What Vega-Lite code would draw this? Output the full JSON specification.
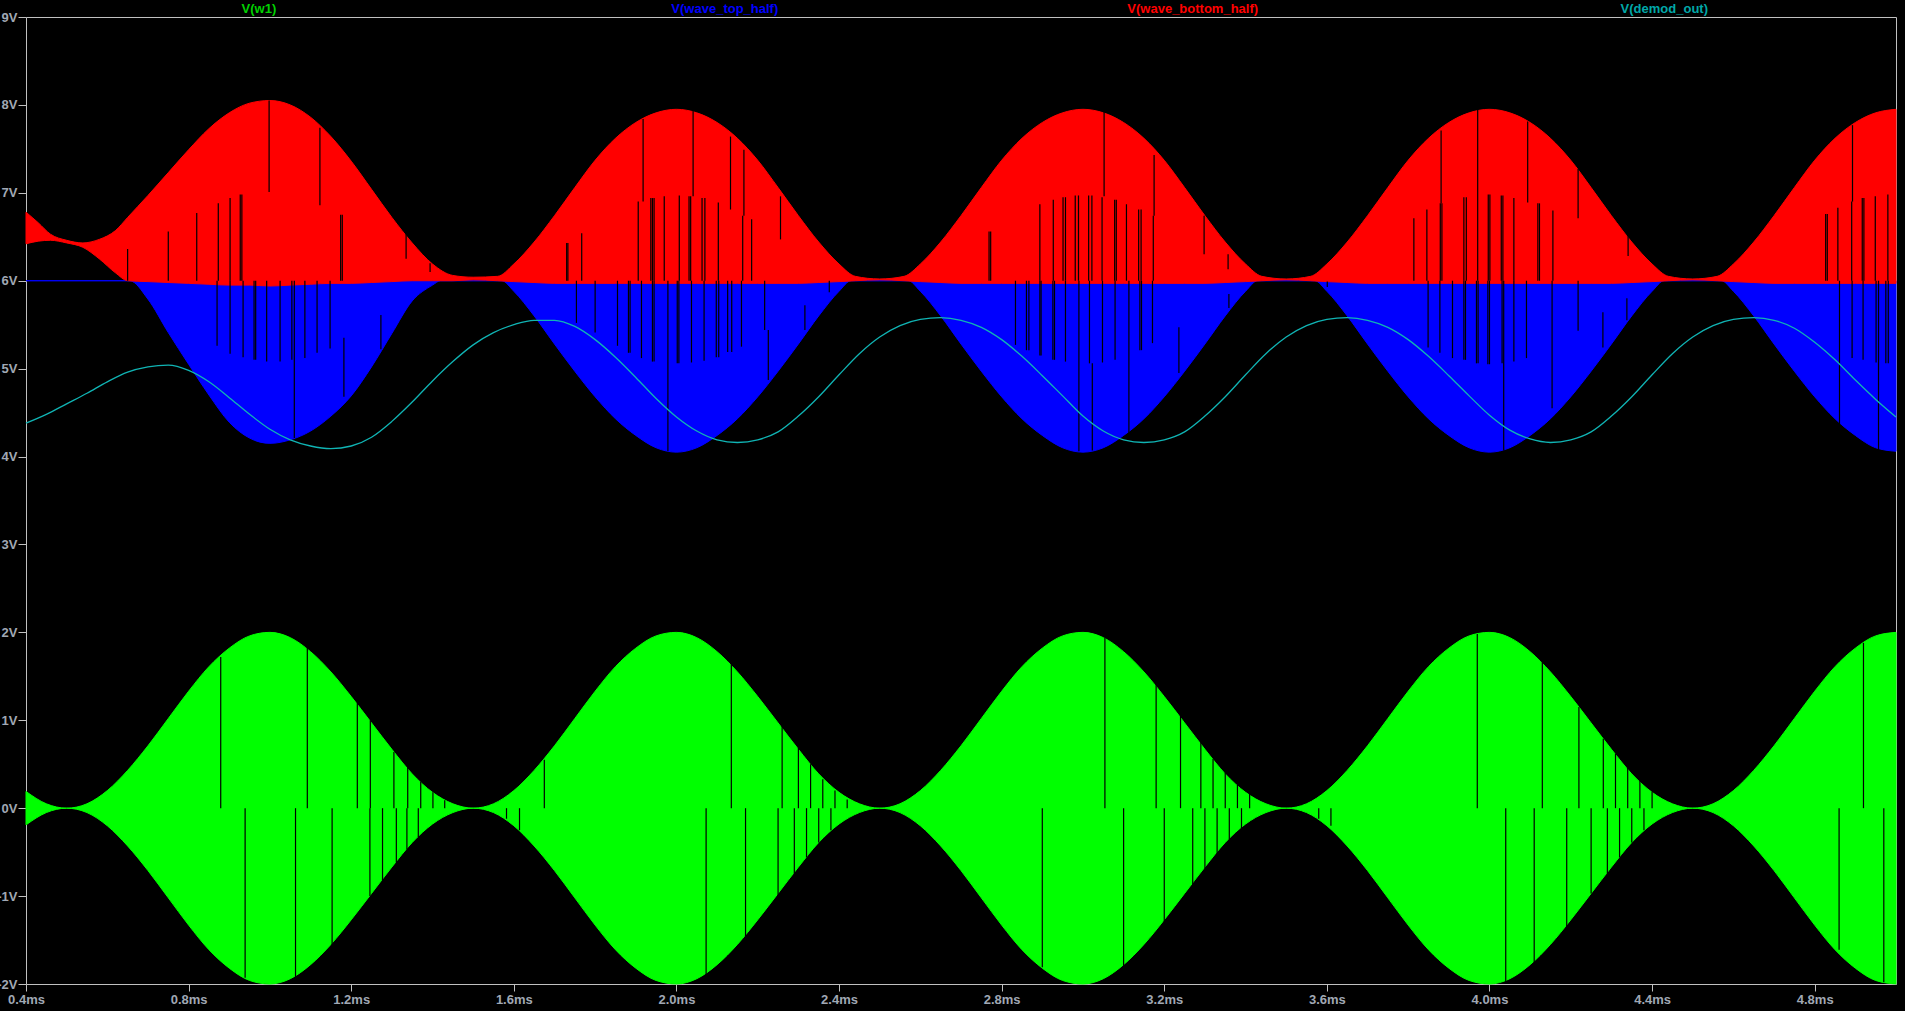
{
 "$schema": "https://vega.github.io/schema/vega-lite/v6.json",
 "width": 1870, "height": 967,
 "autosize": {"type": "none"},
 "padding": {"left": 26, "top": 17, "right": 9, "bottom": 27},
 "background": "#000000",
 "config": {
  "view": {"stroke": "#c0c0c0", "strokeWidth": 1, "fill": "#000000"},
  "axis": {"domain": false, "grid": false, "tickColor": "#c0c0c0", "labelColor": "#a0a8b4", "labelFont": "Liberation Sans, Arial, sans-serif", "labelFontSize": 13, "labelFontWeight": "bold", "title": null, "labelFlush": false, "labelOverlap": false, "labelBound": false}
 },
 "datasets": {
  "green": [
   {"t":0.40,"hi":0.19,"lo":-0.19},{"t":0.45,"hi":0.05,"lo":-0.05},{"t":0.50,"hi":0.00,"lo":0.00},{"t":0.55,"hi":0.05,"lo":-0.05},{"t":0.60,"hi":0.20,"lo":-0.20},{"t":0.65,"hi":0.43,"lo":-0.43},{"t":0.70,"hi":0.71,"lo":-0.71},{"t":0.75,"hi":1.02,"lo":-1.02},{"t":0.80,"hi":1.33,"lo":-1.33},{"t":0.85,"hi":1.61,"lo":-1.61},{"t":0.90,"hi":1.82,"lo":-1.82},{"t":0.95,"hi":1.96,"lo":-1.96},
   {"t":1.00,"hi":2.00,"lo":-2.00},{"t":1.05,"hi":1.94,"lo":-1.94},{"t":1.10,"hi":1.78,"lo":-1.78},{"t":1.15,"hi":1.55,"lo":-1.55},{"t":1.20,"hi":1.27,"lo":-1.27},{"t":1.25,"hi":0.97,"lo":-0.97},{"t":1.30,"hi":0.67,"lo":-0.67},{"t":1.35,"hi":0.39,"lo":-0.39},{"t":1.40,"hi":0.18,"lo":-0.18},{"t":1.45,"hi":0.05,"lo":-0.05},
   {"t":1.50,"hi":0.00,"lo":0.00},{"t":1.55,"hi":0.05,"lo":-0.05},{"t":1.60,"hi":0.20,"lo":-0.20},{"t":1.65,"hi":0.43,"lo":-0.43},{"t":1.70,"hi":0.71,"lo":-0.71},{"t":1.75,"hi":1.02,"lo":-1.02},{"t":1.80,"hi":1.33,"lo":-1.33},{"t":1.85,"hi":1.61,"lo":-1.61},{"t":1.90,"hi":1.82,"lo":-1.82},{"t":1.95,"hi":1.96,"lo":-1.96},
   {"t":2.00,"hi":2.00,"lo":-2.00},{"t":2.05,"hi":1.94,"lo":-1.94},{"t":2.10,"hi":1.78,"lo":-1.78},{"t":2.15,"hi":1.55,"lo":-1.55},{"t":2.20,"hi":1.27,"lo":-1.27},{"t":2.25,"hi":0.97,"lo":-0.97},{"t":2.30,"hi":0.67,"lo":-0.67},{"t":2.35,"hi":0.39,"lo":-0.39},{"t":2.40,"hi":0.18,"lo":-0.18},{"t":2.45,"hi":0.05,"lo":-0.05},
   {"t":2.50,"hi":0.00,"lo":0.00},{"t":2.55,"hi":0.05,"lo":-0.05},{"t":2.60,"hi":0.20,"lo":-0.20},{"t":2.65,"hi":0.43,"lo":-0.43},{"t":2.70,"hi":0.71,"lo":-0.71},{"t":2.75,"hi":1.02,"lo":-1.02},{"t":2.80,"hi":1.33,"lo":-1.33},{"t":2.85,"hi":1.61,"lo":-1.61},{"t":2.90,"hi":1.82,"lo":-1.82},{"t":2.95,"hi":1.96,"lo":-1.96},
   {"t":3.00,"hi":2.00,"lo":-2.00},{"t":3.05,"hi":1.94,"lo":-1.94},{"t":3.10,"hi":1.78,"lo":-1.78},{"t":3.15,"hi":1.55,"lo":-1.55},{"t":3.20,"hi":1.27,"lo":-1.27},{"t":3.25,"hi":0.97,"lo":-0.97},{"t":3.30,"hi":0.67,"lo":-0.67},{"t":3.35,"hi":0.39,"lo":-0.39},{"t":3.40,"hi":0.18,"lo":-0.18},{"t":3.45,"hi":0.05,"lo":-0.05},
   {"t":3.50,"hi":0.00,"lo":0.00},{"t":3.55,"hi":0.05,"lo":-0.05},{"t":3.60,"hi":0.20,"lo":-0.20},{"t":3.65,"hi":0.43,"lo":-0.43},{"t":3.70,"hi":0.71,"lo":-0.71},{"t":3.75,"hi":1.02,"lo":-1.02},{"t":3.80,"hi":1.33,"lo":-1.33},{"t":3.85,"hi":1.61,"lo":-1.61},{"t":3.90,"hi":1.82,"lo":-1.82},{"t":3.95,"hi":1.96,"lo":-1.96},
   {"t":4.00,"hi":2.00,"lo":-2.00},{"t":4.05,"hi":1.94,"lo":-1.94},{"t":4.10,"hi":1.78,"lo":-1.78},{"t":4.15,"hi":1.55,"lo":-1.55},{"t":4.20,"hi":1.27,"lo":-1.27},{"t":4.25,"hi":0.97,"lo":-0.97},{"t":4.30,"hi":0.67,"lo":-0.67},{"t":4.35,"hi":0.39,"lo":-0.39},{"t":4.40,"hi":0.18,"lo":-0.18},{"t":4.45,"hi":0.05,"lo":-0.05},
   {"t":4.50,"hi":0.00,"lo":0.00},{"t":4.55,"hi":0.05,"lo":-0.05},{"t":4.60,"hi":0.20,"lo":-0.20},{"t":4.65,"hi":0.43,"lo":-0.43},{"t":4.70,"hi":0.71,"lo":-0.71},{"t":4.75,"hi":1.02,"lo":-1.02},{"t":4.80,"hi":1.33,"lo":-1.33},{"t":4.85,"hi":1.61,"lo":-1.61},{"t":4.90,"hi":1.82,"lo":-1.82},{"t":4.95,"hi":1.96,"lo":-1.96},{"t":5.00,"hi":2.00,"lo":-2.00}
  ],
  "blue": [
   {"t":0.40,"hi":6.0,"lo":6.0},{"t":0.655,"hi":6.0,"lo":6.0},{"t":0.70,"hi":6.0,"lo":5.79},{"t":0.75,"hi":6.0,"lo":5.41},{"t":0.80,"hi":6.0,"lo":5.05},{"t":0.85,"hi":6.0,"lo":4.70},{"t":0.90,"hi":6.0,"lo":4.39},{"t":0.95,"hi":6.0,"lo":4.21},{"t":1.00,"hi":6.0,"lo":4.15},{"t":1.05,"hi":6.0,"lo":4.19},{"t":1.10,"hi":6.0,"lo":4.29},{"t":1.15,"hi":6.0,"lo":4.46},{"t":1.20,"hi":6.0,"lo":4.69},{"t":1.25,"hi":6.0,"lo":5.02},{"t":1.30,"hi":6.0,"lo":5.40},{"t":1.35,"hi":6.0,"lo":5.77},{"t":1.40,"hi":6.0,"lo":5.95},{"t":1.42,"hi":6.0,"lo":6.0},
   {"t":1.57,"hi":6.0,"lo":6.0},{"t":1.60,"hi":6.0,"lo":5.88},{"t":1.65,"hi":6.0,"lo":5.60},{"t":1.70,"hi":6.0,"lo":5.28},{"t":1.75,"hi":6.0,"lo":4.97},{"t":1.80,"hi":6.0,"lo":4.68},{"t":1.85,"hi":6.0,"lo":4.43},{"t":1.90,"hi":6.0,"lo":4.24},{"t":1.95,"hi":6.0,"lo":4.10},{"t":2.00,"hi":6.0,"lo":4.05},{"t":2.05,"hi":6.0,"lo":4.10},{"t":2.10,"hi":6.0,"lo":4.24},{"t":2.15,"hi":6.0,"lo":4.43},{"t":2.20,"hi":6.0,"lo":4.68},{"t":2.25,"hi":6.0,"lo":4.97},{"t":2.30,"hi":6.0,"lo":5.28},{"t":2.35,"hi":6.0,"lo":5.60},{"t":2.40,"hi":6.0,"lo":5.88},{"t":2.43,"hi":6.0,"lo":6.0},
   {"t":2.57,"hi":6.0,"lo":6.0},{"t":2.60,"hi":6.0,"lo":5.88},{"t":2.65,"hi":6.0,"lo":5.60},{"t":2.70,"hi":6.0,"lo":5.28},{"t":2.75,"hi":6.0,"lo":4.97},{"t":2.80,"hi":6.0,"lo":4.68},{"t":2.85,"hi":6.0,"lo":4.43},{"t":2.90,"hi":6.0,"lo":4.24},{"t":2.95,"hi":6.0,"lo":4.10},{"t":3.00,"hi":6.0,"lo":4.05},{"t":3.05,"hi":6.0,"lo":4.10},{"t":3.10,"hi":6.0,"lo":4.24},{"t":3.15,"hi":6.0,"lo":4.43},{"t":3.20,"hi":6.0,"lo":4.68},{"t":3.25,"hi":6.0,"lo":4.97},{"t":3.30,"hi":6.0,"lo":5.28},{"t":3.35,"hi":6.0,"lo":5.60},{"t":3.40,"hi":6.0,"lo":5.88},{"t":3.43,"hi":6.0,"lo":6.0},
   {"t":3.57,"hi":6.0,"lo":6.0},{"t":3.60,"hi":6.0,"lo":5.88},{"t":3.65,"hi":6.0,"lo":5.60},{"t":3.70,"hi":6.0,"lo":5.28},{"t":3.75,"hi":6.0,"lo":4.97},{"t":3.80,"hi":6.0,"lo":4.68},{"t":3.85,"hi":6.0,"lo":4.43},{"t":3.90,"hi":6.0,"lo":4.24},{"t":3.95,"hi":6.0,"lo":4.10},{"t":4.00,"hi":6.0,"lo":4.05},{"t":4.05,"hi":6.0,"lo":4.10},{"t":4.10,"hi":6.0,"lo":4.24},{"t":4.15,"hi":6.0,"lo":4.43},{"t":4.20,"hi":6.0,"lo":4.68},{"t":4.25,"hi":6.0,"lo":4.97},{"t":4.30,"hi":6.0,"lo":5.28},{"t":4.35,"hi":6.0,"lo":5.60},{"t":4.40,"hi":6.0,"lo":5.88},{"t":4.43,"hi":6.0,"lo":6.0},
   {"t":4.57,"hi":6.0,"lo":6.0},{"t":4.60,"hi":6.0,"lo":5.88},{"t":4.65,"hi":6.0,"lo":5.60},{"t":4.70,"hi":6.0,"lo":5.28},{"t":4.75,"hi":6.0,"lo":4.97},{"t":4.80,"hi":6.0,"lo":4.68},{"t":4.85,"hi":6.0,"lo":4.43},{"t":4.90,"hi":6.0,"lo":4.24},{"t":4.95,"hi":6.0,"lo":4.10},{"t":5.00,"hi":6.0,"lo":4.06}
  ],
  "red": [
   {"t":0.40,"hi":6.78,"lo":6.42},{"t":0.43,"hi":6.66,"lo":6.45},{"t":0.46,"hi":6.53,"lo":6.46},{"t":0.50,"hi":6.46,"lo":6.43},{"t":0.54,"hi":6.43,"lo":6.38},{"t":0.58,"hi":6.47,"lo":6.25},{"t":0.62,"hi":6.57,"lo":6.09},{"t":0.65,"hi":6.72,"lo":6.00},{"t":0.70,"hi":6.97,"lo":5.99},{"t":0.75,"hi":7.23,"lo":5.98},{"t":0.80,"hi":7.49,"lo":5.97},{"t":0.85,"hi":7.73,"lo":5.96},{"t":0.90,"hi":7.91,"lo":5.95},{"t":0.95,"hi":8.02,"lo":5.95},
   {"t":1.00,"hi":8.05,"lo":5.94},{"t":1.05,"hi":8.00,"lo":5.95},{"t":1.10,"hi":7.86,"lo":5.96},{"t":1.15,"hi":7.64,"lo":5.97},{"t":1.20,"hi":7.36,"lo":5.97},{"t":1.25,"hi":7.04,"lo":5.98},{"t":1.30,"hi":6.72,"lo":5.99},{"t":1.35,"hi":6.43,"lo":6.00},{"t":1.40,"hi":6.19,"lo":6.00},{"t":1.45,"hi":6.06,"lo":6.00},{"t":1.50,"hi":6.04,"lo":6.01},
   {"t":1.56,"hi":6.05,"lo":6.00},{"t":1.60,"hi":6.19,"lo":5.99},{"t":1.65,"hi":6.44,"lo":5.98},{"t":1.70,"hi":6.74,"lo":5.97},{"t":1.75,"hi":7.06,"lo":5.97},{"t":1.80,"hi":7.37,"lo":5.97},{"t":1.85,"hi":7.62,"lo":5.97},{"t":1.90,"hi":7.80,"lo":5.97},{"t":1.95,"hi":7.91,"lo":5.97},{"t":2.00,"hi":7.95,"lo":5.97},{"t":2.05,"hi":7.91,"lo":5.97},{"t":2.10,"hi":7.80,"lo":5.97},{"t":2.15,"hi":7.62,"lo":5.97},{"t":2.20,"hi":7.37,"lo":5.97},{"t":2.25,"hi":7.06,"lo":5.97},{"t":2.30,"hi":6.74,"lo":5.97},{"t":2.35,"hi":6.44,"lo":5.98},{"t":2.40,"hi":6.19,"lo":5.99},{"t":2.44,"hi":6.05,"lo":6.00},{"t":2.50,"hi":6.02,"lo":6.01},
   {"t":2.56,"hi":6.05,"lo":6.00},{"t":2.60,"hi":6.19,"lo":5.99},{"t":2.65,"hi":6.44,"lo":5.98},{"t":2.70,"hi":6.74,"lo":5.97},{"t":2.75,"hi":7.06,"lo":5.97},{"t":2.80,"hi":7.37,"lo":5.97},{"t":2.85,"hi":7.62,"lo":5.97},{"t":2.90,"hi":7.80,"lo":5.97},{"t":2.95,"hi":7.91,"lo":5.97},{"t":3.00,"hi":7.95,"lo":5.97},{"t":3.05,"hi":7.91,"lo":5.97},{"t":3.10,"hi":7.80,"lo":5.97},{"t":3.15,"hi":7.62,"lo":5.97},{"t":3.20,"hi":7.37,"lo":5.97},{"t":3.25,"hi":7.06,"lo":5.97},{"t":3.30,"hi":6.74,"lo":5.97},{"t":3.35,"hi":6.44,"lo":5.98},{"t":3.40,"hi":6.19,"lo":5.99},{"t":3.44,"hi":6.05,"lo":6.00},{"t":3.50,"hi":6.02,"lo":6.01},
   {"t":3.56,"hi":6.05,"lo":6.00},{"t":3.60,"hi":6.19,"lo":5.99},{"t":3.65,"hi":6.44,"lo":5.98},{"t":3.70,"hi":6.74,"lo":5.97},{"t":3.75,"hi":7.06,"lo":5.97},{"t":3.80,"hi":7.37,"lo":5.97},{"t":3.85,"hi":7.62,"lo":5.97},{"t":3.90,"hi":7.80,"lo":5.97},{"t":3.95,"hi":7.91,"lo":5.97},{"t":4.00,"hi":7.95,"lo":5.97},{"t":4.05,"hi":7.91,"lo":5.97},{"t":4.10,"hi":7.80,"lo":5.97},{"t":4.15,"hi":7.62,"lo":5.97},{"t":4.20,"hi":7.37,"lo":5.97},{"t":4.25,"hi":7.06,"lo":5.97},{"t":4.30,"hi":6.74,"lo":5.97},{"t":4.35,"hi":6.44,"lo":5.98},{"t":4.40,"hi":6.19,"lo":5.99},{"t":4.44,"hi":6.05,"lo":6.00},{"t":4.50,"hi":6.02,"lo":6.01},
   {"t":4.56,"hi":6.05,"lo":6.00},{"t":4.60,"hi":6.19,"lo":5.99},{"t":4.65,"hi":6.44,"lo":5.98},{"t":4.70,"hi":6.74,"lo":5.97},{"t":4.75,"hi":7.06,"lo":5.97},{"t":4.80,"hi":7.37,"lo":5.97},{"t":4.85,"hi":7.62,"lo":5.97},{"t":4.90,"hi":7.80,"lo":5.97},{"t":4.95,"hi":7.91,"lo":5.97},{"t":5.00,"hi":7.95,"lo":5.97}
  ],
  "gaps": [
   {"t":0.65,"y":6.0,"y2":6.36},{"t":0.75,"y":6.0,"y2":6.56},{"t":0.82,"y":6.0,"y2":6.77},{"t":0.873,"y":6.0,"y2":6.88},{"t":0.902,"y":6.0,"y2":6.94},{"t":0.927,"y":6.0,"y2":6.98},{"t":0.931,"y":6.0,"y2":6.98},{"t":0.998,"y":7.01,"y2":8.05},{"t":1.123,"y":6.86,"y2":7.74},{"t":1.174,"y":6.0,"y2":6.75},{"t":1.178,"y":6.0,"y2":6.75},{"t":1.335,"y":6.25,"y2":6.54},{"t":1.394,"y":6.1,"y2":6.2},
   {"t":0.87,"y":5.26,"y2":6.0},{"t":0.902,"y":5.17,"y2":6.0},{"t":0.934,"y":5.13,"y2":6.0},{"t":0.961,"y":5.10,"y2":6.0},{"t":0.965,"y":5.10,"y2":6.0},{"t":0.992,"y":5.08,"y2":6.0},{"t":1.025,"y":5.08,"y2":6.0},{"t":1.054,"y":5.10,"y2":6.0},{"t":1.06,"y":4.21,"y2":6.0},{"t":1.086,"y":5.12,"y2":6.0},{"t":1.116,"y":5.18,"y2":6.0},{"t":1.148,"y":5.23,"y2":6.0},{"t":1.182,"y":4.68,"y2":5.35},{"t":1.273,"y":5.22,"y2":5.61},
   {"t":1.73,"y":6.0,"y2":6.43},{"t":1.733,"y":6.0,"y2":6.43},{"t":1.767,"y":6.0,"y2":6.54},{"t":1.906,"y":6.0,"y2":6.90},{"t":1.918,"y":6.90,"y2":7.84},{"t":1.937,"y":6.0,"y2":6.94},{"t":1.941,"y":6.0,"y2":6.94},{"t":1.945,"y":6.0,"y2":6.94},{"t":1.97,"y":6.0,"y2":6.96},{"t":2.007,"y":6.0,"y2":6.97},{"t":2.031,"y":6.0,"y2":6.96},{"t":2.035,"y":6.0,"y2":6.96},{"t":2.041,"y":6.96,"y2":7.93},{"t":2.063,"y":6.0,"y2":6.94},{"t":2.07,"y":6.0,"y2":6.94},{"t":2.103,"y":6.0,"y2":6.89},{"t":2.133,"y":6.81,"y2":7.64},{"t":2.163,"y":6.0,"y2":6.74},{"t":2.166,"y":6.74,"y2":7.49},{"t":2.185,"y":6.0,"y2":6.7},{"t":2.256,"y":6.47,"y2":6.96},
   {"t":1.754,"y":5.52,"y2":6.0},{"t":1.80,"y":5.41,"y2":6.0},{"t":1.855,"y":5.26,"y2":6.0},{"t":1.882,"y":5.18,"y2":6.0},{"t":1.886,"y":5.18,"y2":6.0},{"t":1.914,"y":5.12,"y2":6.0},{"t":1.941,"y":5.08,"y2":6.0},{"t":1.945,"y":5.08,"y2":6.0},{"t":1.979,"y":4.06,"y2":6.0},{"t":2.002,"y":5.06,"y2":6.0},{"t":2.006,"y":5.06,"y2":6.0},{"t":2.037,"y":5.07,"y2":6.0},{"t":2.068,"y":5.09,"y2":6.0},{"t":2.098,"y":5.13,"y2":6.0},{"t":2.104,"y":5.13,"y2":6.0},{"t":2.126,"y":5.19,"y2":6.0},{"t":2.136,"y":5.19,"y2":6.0},{"t":2.16,"y":5.25,"y2":6.0},{"t":2.217,"y":5.44,"y2":6.0},{"t":2.226,"y":4.87,"y2":5.44},{"t":2.316,"y":5.44,"y2":5.72},{"t":2.376,"y":5.87,"y2":6.0},
   {"t":2.769,"y":6.0,"y2":6.56},{"t":2.773,"y":6.0,"y2":6.56},{"t":2.894,"y":6.0,"y2":6.87},{"t":2.927,"y":6.0,"y2":6.92},{"t":2.951,"y":6.0,"y2":6.95},{"t":2.957,"y":6.0,"y2":6.95},{"t":2.981,"y":6.0,"y2":6.97},{"t":2.989,"y":6.0,"y2":6.97},{"t":3.014,"y":6.0,"y2":6.97},{"t":3.022,"y":6.0,"y2":6.97},{"t":3.047,"y":6.0,"y2":6.95},{"t":3.052,"y":6.96,"y2":7.92},{"t":3.078,"y":6.0,"y2":6.92},{"t":3.082,"y":6.0,"y2":6.92},{"t":3.107,"y":6.0,"y2":6.87},{"t":3.137,"y":6.0,"y2":6.81},{"t":3.143,"y":6.0,"y2":6.81},{"t":3.173,"y":6.0,"y2":6.74},{"t":3.175,"y":6.74,"y2":7.43},{"t":3.298,"y":6.3,"y2":6.74},{"t":3.357,"y":6.13,"y2":6.3},{"t":3.814,"y":6.0,"y2":6.71},
   {"t":2.834,"y":5.27,"y2":6.0},{"t":2.861,"y":5.21,"y2":6.0},{"t":2.867,"y":5.21,"y2":6.0},{"t":2.894,"y":5.15,"y2":6.0},{"t":2.897,"y":5.15,"y2":6.0},{"t":2.926,"y":5.10,"y2":6.0},{"t":2.930,"y":5.10,"y2":6.0},{"t":2.957,"y":5.08,"y2":6.0},{"t":2.99,"y":4.06,"y2":6.0},{"t":3.016,"y":5.06,"y2":6.0},{"t":3.023,"y":4.07,"y2":5.06},{"t":3.048,"y":5.07,"y2":6.0},{"t":3.079,"y":5.10,"y2":6.0},{"t":3.113,"y":4.27,"y2":6.0},{"t":3.14,"y":5.21,"y2":6.0},{"t":3.144,"y":5.21,"y2":6.0},{"t":3.171,"y":5.29,"y2":6.0},{"t":3.236,"y":4.95,"y2":5.47},{"t":3.359,"y":5.69,"y2":5.85},{"t":3.601,"y":5.93,"y2":5.99},
   {"t":3.846,"y":6.0,"y2":6.81},{"t":3.879,"y":6.0,"y2":6.88},{"t":3.883,"y":6.0,"y2":6.88},{"t":3.881,"y":6.88,"y2":7.71},{"t":3.937,"y":6.0,"y2":6.95},{"t":3.943,"y":6.0,"y2":6.95},{"t":3.971,"y":6.0,"y2":7.96},{"t":3.997,"y":6.0,"y2":6.98},{"t":4.001,"y":6.0,"y2":6.98},{"t":4.029,"y":6.0,"y2":6.97},{"t":4.033,"y":6.0,"y2":6.97},{"t":4.06,"y":6.0,"y2":6.94},{"t":4.094,"y":6.89,"y2":7.81},{"t":4.119,"y":6.0,"y2":6.88},{"t":4.123,"y":6.0,"y2":6.88},{"t":4.156,"y":6.0,"y2":6.80},{"t":4.218,"y":6.71,"y2":7.27},{"t":4.341,"y":6.28,"y2":6.56},
   {"t":3.849,"y":5.24,"y2":6.0},{"t":3.878,"y":5.18,"y2":6.0},{"t":3.909,"y":5.12,"y2":6.0},{"t":3.937,"y":5.10,"y2":6.0},{"t":3.941,"y":5.10,"y2":6.0},{"t":3.968,"y":5.06,"y2":6.0},{"t":3.972,"y":5.06,"y2":6.0},{"t":3.996,"y":5.05,"y2":6.0},{"t":4.0,"y":5.05,"y2":6.0},{"t":4.031,"y":5.06,"y2":6.0},{"t":4.035,"y":4.07,"y2":6.0},{"t":4.06,"y":5.08,"y2":6.0},{"t":4.091,"y":5.12,"y2":6.0},{"t":4.154,"y":4.55,"y2":6.0},{"t":4.218,"y":5.43,"y2":6.0},{"t":4.279,"y":5.24,"y2":5.64},{"t":4.338,"y":5.55,"y2":5.80},
   {"t":4.827,"y":6.0,"y2":6.76},{"t":4.831,"y":6.0,"y2":6.76},{"t":4.857,"y":6.0,"y2":6.83},{"t":4.891,"y":6.0,"y2":6.9},{"t":4.893,"y":6.9,"y2":7.77},{"t":4.917,"y":6.0,"y2":6.94},{"t":4.921,"y":6.0,"y2":6.94},{"t":4.949,"y":6.0,"y2":6.96},{"t":4.98,"y":6.0,"y2":6.98},
   {"t":4.861,"y":4.33,"y2":6.0},{"t":4.892,"y":5.12,"y2":6.0},{"t":4.919,"y":5.10,"y2":6.0},{"t":4.951,"y":5.07,"y2":6.0},{"t":4.957,"y":4.07,"y2":6.0},{"t":4.975,"y":5.06,"y2":6.0},{"t":4.981,"y":5.06,"y2":6.0},
   {"t":0.879,"y":0,"y2":1.72},{"t":1.092,"y":0,"y2":1.84},{"t":1.215,"y":0,"y2":1.2},{"t":1.247,"y":0,"y2":1.0},{"t":1.305,"y":0,"y2":0.64},{"t":1.339,"y":0,"y2":0.46},{"t":1.371,"y":0,"y2":0.3},{"t":1.401,"y":0,"y2":0.18},{"t":1.43,"y":0,"y2":0.09},{"t":1.675,"y":0,"y2":0.55},{"t":2.135,"y":0,"y2":1.66},{"t":2.26,"y":0,"y2":0.94},{"t":2.30,"y":0,"y2":0.69},{"t":2.33,"y":0,"y2":0.5},{"t":2.36,"y":0,"y2":0.33},{"t":2.39,"y":0,"y2":0.2},{"t":2.42,"y":0,"y2":0.1},{"t":3.054,"y":0,"y2":1.94},{"t":3.18,"y":0,"y2":1.43},{"t":3.24,"y":0,"y2":1.07},{"t":3.29,"y":0,"y2":0.75},{"t":3.32,"y":0,"y2":0.56},{"t":3.35,"y":0,"y2":0.41},{"t":3.38,"y":0,"y2":0.27},{"t":3.41,"y":0,"y2":0.16},{"t":3.97,"y":0,"y2":1.98},{"t":4.13,"y":0,"y2":1.68},{"t":4.22,"y":0,"y2":1.15},{"t":4.28,"y":0,"y2":0.79},{"t":4.31,"y":0,"y2":0.62},{"t":4.34,"y":0,"y2":0.46},{"t":4.37,"y":0,"y2":0.31},{"t":4.40,"y":0,"y2":0.19},{"t":4.92,"y":0,"y2":1.88},
   {"t":0.939,"y":-1.93,"y2":0},{"t":1.063,"y":-1.93,"y2":0},{"t":1.153,"y":-1.56,"y2":0},{"t":1.246,"y":-1.0,"y2":0},{"t":1.277,"y":-0.82,"y2":0},{"t":1.311,"y":-0.62,"y2":0},{"t":1.337,"y":-0.47,"y2":0},{"t":1.365,"y":-0.33,"y2":0},{"t":1.582,"y":-0.12,"y2":0},{"t":1.614,"y":-0.25,"y2":0},{"t":2.073,"y":-1.9,"y2":0},{"t":2.17,"y":-1.48,"y2":0},{"t":2.25,"y":-1.0,"y2":0},{"t":2.29,"y":-0.75,"y2":0},{"t":2.32,"y":-0.56,"y2":0},{"t":2.35,"y":-0.39,"y2":0},{"t":2.38,"y":-0.25,"y2":0},{"t":2.90,"y":-1.81,"y2":0},{"t":3.10,"y":-1.8,"y2":0},{"t":3.20,"y":-1.31,"y2":0},{"t":3.27,"y":-0.87,"y2":0},{"t":3.30,"y":-0.69,"y2":0},{"t":3.33,"y":-0.52,"y2":0},{"t":3.36,"y":-0.36,"y2":0},{"t":3.39,"y":-0.23,"y2":0},{"t":3.58,"y":-0.12,"y2":0},{"t":3.61,"y":-0.2,"y2":0},{"t":4.04,"y":-1.97,"y2":0},{"t":4.11,"y":-1.78,"y2":0},{"t":4.19,"y":-1.36,"y2":0},{"t":4.25,"y":-0.97,"y2":0},{"t":4.29,"y":-0.75,"y2":0},{"t":4.32,"y":-0.56,"y2":0},{"t":4.35,"y":-0.39,"y2":0},{"t":4.38,"y":-0.25,"y2":0},{"t":4.86,"y":-1.61,"y2":0},{"t":4.97,"y":-1.98,"y2":0}
  ],
  "demod": [
   {"t":0.40,"v":4.38},{"t":0.45,"v":4.48},{"t":0.50,"v":4.60},{"t":0.55,"v":4.72},{"t":0.60,"v":4.85},{"t":0.65,"v":4.96},{"t":0.70,"v":5.02},{"t":0.75,"v":5.04},{"t":0.80,"v":4.98},{"t":0.85,"v":4.85},{"t":0.90,"v":4.67},{"t":0.95,"v":4.48},
   {"t":1.00,"v":4.31},{"t":1.05,"v":4.19},{"t":1.10,"v":4.12},{"t":1.15,"v":4.09},{"t":1.20,"v":4.12},{"t":1.25,"v":4.22},{"t":1.30,"v":4.40},{"t":1.35,"v":4.62},{"t":1.40,"v":4.86},{"t":1.45,"v":5.08},{"t":1.50,"v":5.27},{"t":1.55,"v":5.41},{"t":1.60,"v":5.50},{"t":1.65,"v":5.55},{"t":1.70,"v":5.55},{"t":1.75,"v":5.48},{"t":1.80,"v":5.33},{"t":1.85,"v":5.13},{"t":1.90,"v":4.90},{"t":1.95,"v":4.66},
   {"t":2.00,"v":4.45},{"t":2.05,"v":4.29},{"t":2.10,"v":4.19},{"t":2.15,"v":4.16},{"t":2.20,"v":4.19},{"t":2.25,"v":4.28},{"t":2.30,"v":4.46},{"t":2.35,"v":4.68},{"t":2.40,"v":4.93},{"t":2.45,"v":5.17},{"t":2.50,"v":5.36},{"t":2.55,"v":5.49},{"t":2.60,"v":5.56},{"t":2.65,"v":5.58},{"t":2.70,"v":5.55},{"t":2.75,"v":5.47},{"t":2.80,"v":5.33},{"t":2.85,"v":5.14},{"t":2.90,"v":4.92},{"t":2.95,"v":4.69},
   {"t":3.00,"v":4.46},{"t":3.05,"v":4.29},{"t":3.10,"v":4.19},{"t":3.15,"v":4.16},{"t":3.20,"v":4.19},{"t":3.25,"v":4.28},{"t":3.30,"v":4.46},{"t":3.35,"v":4.68},{"t":3.40,"v":4.93},{"t":3.45,"v":5.17},{"t":3.50,"v":5.36},{"t":3.55,"v":5.49},{"t":3.60,"v":5.56},{"t":3.65,"v":5.58},{"t":3.70,"v":5.55},{"t":3.75,"v":5.47},{"t":3.80,"v":5.33},{"t":3.85,"v":5.14},{"t":3.90,"v":4.92},{"t":3.95,"v":4.69},
   {"t":4.00,"v":4.47},{"t":4.05,"v":4.30},{"t":4.10,"v":4.20},{"t":4.15,"v":4.16},{"t":4.20,"v":4.19},{"t":4.25,"v":4.28},{"t":4.30,"v":4.46},{"t":4.35,"v":4.68},{"t":4.40,"v":4.93},{"t":4.45,"v":5.17},{"t":4.50,"v":5.36},{"t":4.55,"v":5.49},{"t":4.60,"v":5.56},{"t":4.65,"v":5.58},{"t":4.70,"v":5.55},{"t":4.75,"v":5.46},{"t":4.80,"v":5.30},{"t":4.85,"v":5.10},{"t":4.90,"v":4.87},{"t":4.95,"v":4.65},{"t":5.00,"v":4.45}
  ],
  "labels": [
   {"t":0.973,"label":"V(w1)"},{"t":2.119,"label":"V(wave_top_half)"},{"t":3.27,"label":"V(wave_bottom_half)"},{"t":4.43,"label":"V(demod_out)"}
  ]
 },
 "layer": [
  {
   "data": {"name": "green"},
   "mark": {"type": "area", "color": "#00ff00", "stroke": "#00ff00", "strokeWidth": 1, "interpolate": "monotone"},
   "encoding": {
    "x": {"field": "t", "type": "quantitative", "scale": {"domain": [0.4, 5.0], "nice": false, "zero": false},
      "axis": {"values": [0.4,0.8,1.2,1.6,2.0,2.4,2.8,3.2,3.6,4.0,4.4,4.8], "labelExpr": "format(datum.value, '.1f') + 'ms'", "tickSize": 7, "labelPadding": 2}},
    "y": {"field": "hi", "type": "quantitative", "scale": {"domain": [-2, 9], "nice": false, "zero": false},
      "axis": {"values": [-2,-1,0,1,2,3,4,5,6,7,8,9], "labelExpr": "datum.value + 'V'", "tickSize": 8, "labelPadding": 1}},
    "y2": {"field": "lo"}
   }
  },
  {
   "data": {"name": "blue"},
   "mark": {"type": "area", "color": "#0000ff", "stroke": "#0000ff", "strokeWidth": 1, "interpolate": "monotone"},
   "encoding": {
    "x": {"field": "t", "type": "quantitative"},
    "y": {"field": "hi", "type": "quantitative"},
    "y2": {"field": "lo"}
   }
  },
  {
   "data": {"name": "red"},
   "mark": {"type": "area", "color": "#ff0000", "stroke": "#ff0000", "strokeWidth": 1, "interpolate": "monotone"},
   "encoding": {
    "x": {"field": "t", "type": "quantitative"},
    "y": {"field": "hi", "type": "quantitative"},
    "y2": {"field": "lo"}
   }
  },
  {
   "data": {"name": "gaps"},
   "mark": {"type": "rule", "color": "#000000", "strokeWidth": 1.2},
   "encoding": {
    "x": {"field": "t", "type": "quantitative"},
    "y": {"field": "y", "type": "quantitative"},
    "y2": {"field": "y2"}
   }
  },
  {
   "data": {"name": "demod"},
   "mark": {"type": "line", "color": "#10b4b4", "strokeWidth": 1.3, "interpolate": "monotone"},
   "encoding": {
    "x": {"field": "t", "type": "quantitative"},
    "y": {"field": "v", "type": "quantitative"}
   }
  },
  {
   "data": {"name": "labels"},
   "mark": {"type": "text", "font": "Liberation Sans, Arial, sans-serif", "fontSize": 13, "fontWeight": "bold", "baseline": "alphabetic", "align": "center", "dy": -4},
   "encoding": {
    "x": {"field": "t", "type": "quantitative"},
    "y": {"datum": 9},
    "text": {"field": "label"},
    "color": {"field": "label", "type": "nominal", "legend": null,
      "scale": {"domain": ["V(w1)", "V(wave_top_half)", "V(wave_bottom_half)", "V(demod_out)"], "range": ["#00d000", "#0000ff", "#ff0000", "#00a8a8"]}}
   }
  }
 ]
}
